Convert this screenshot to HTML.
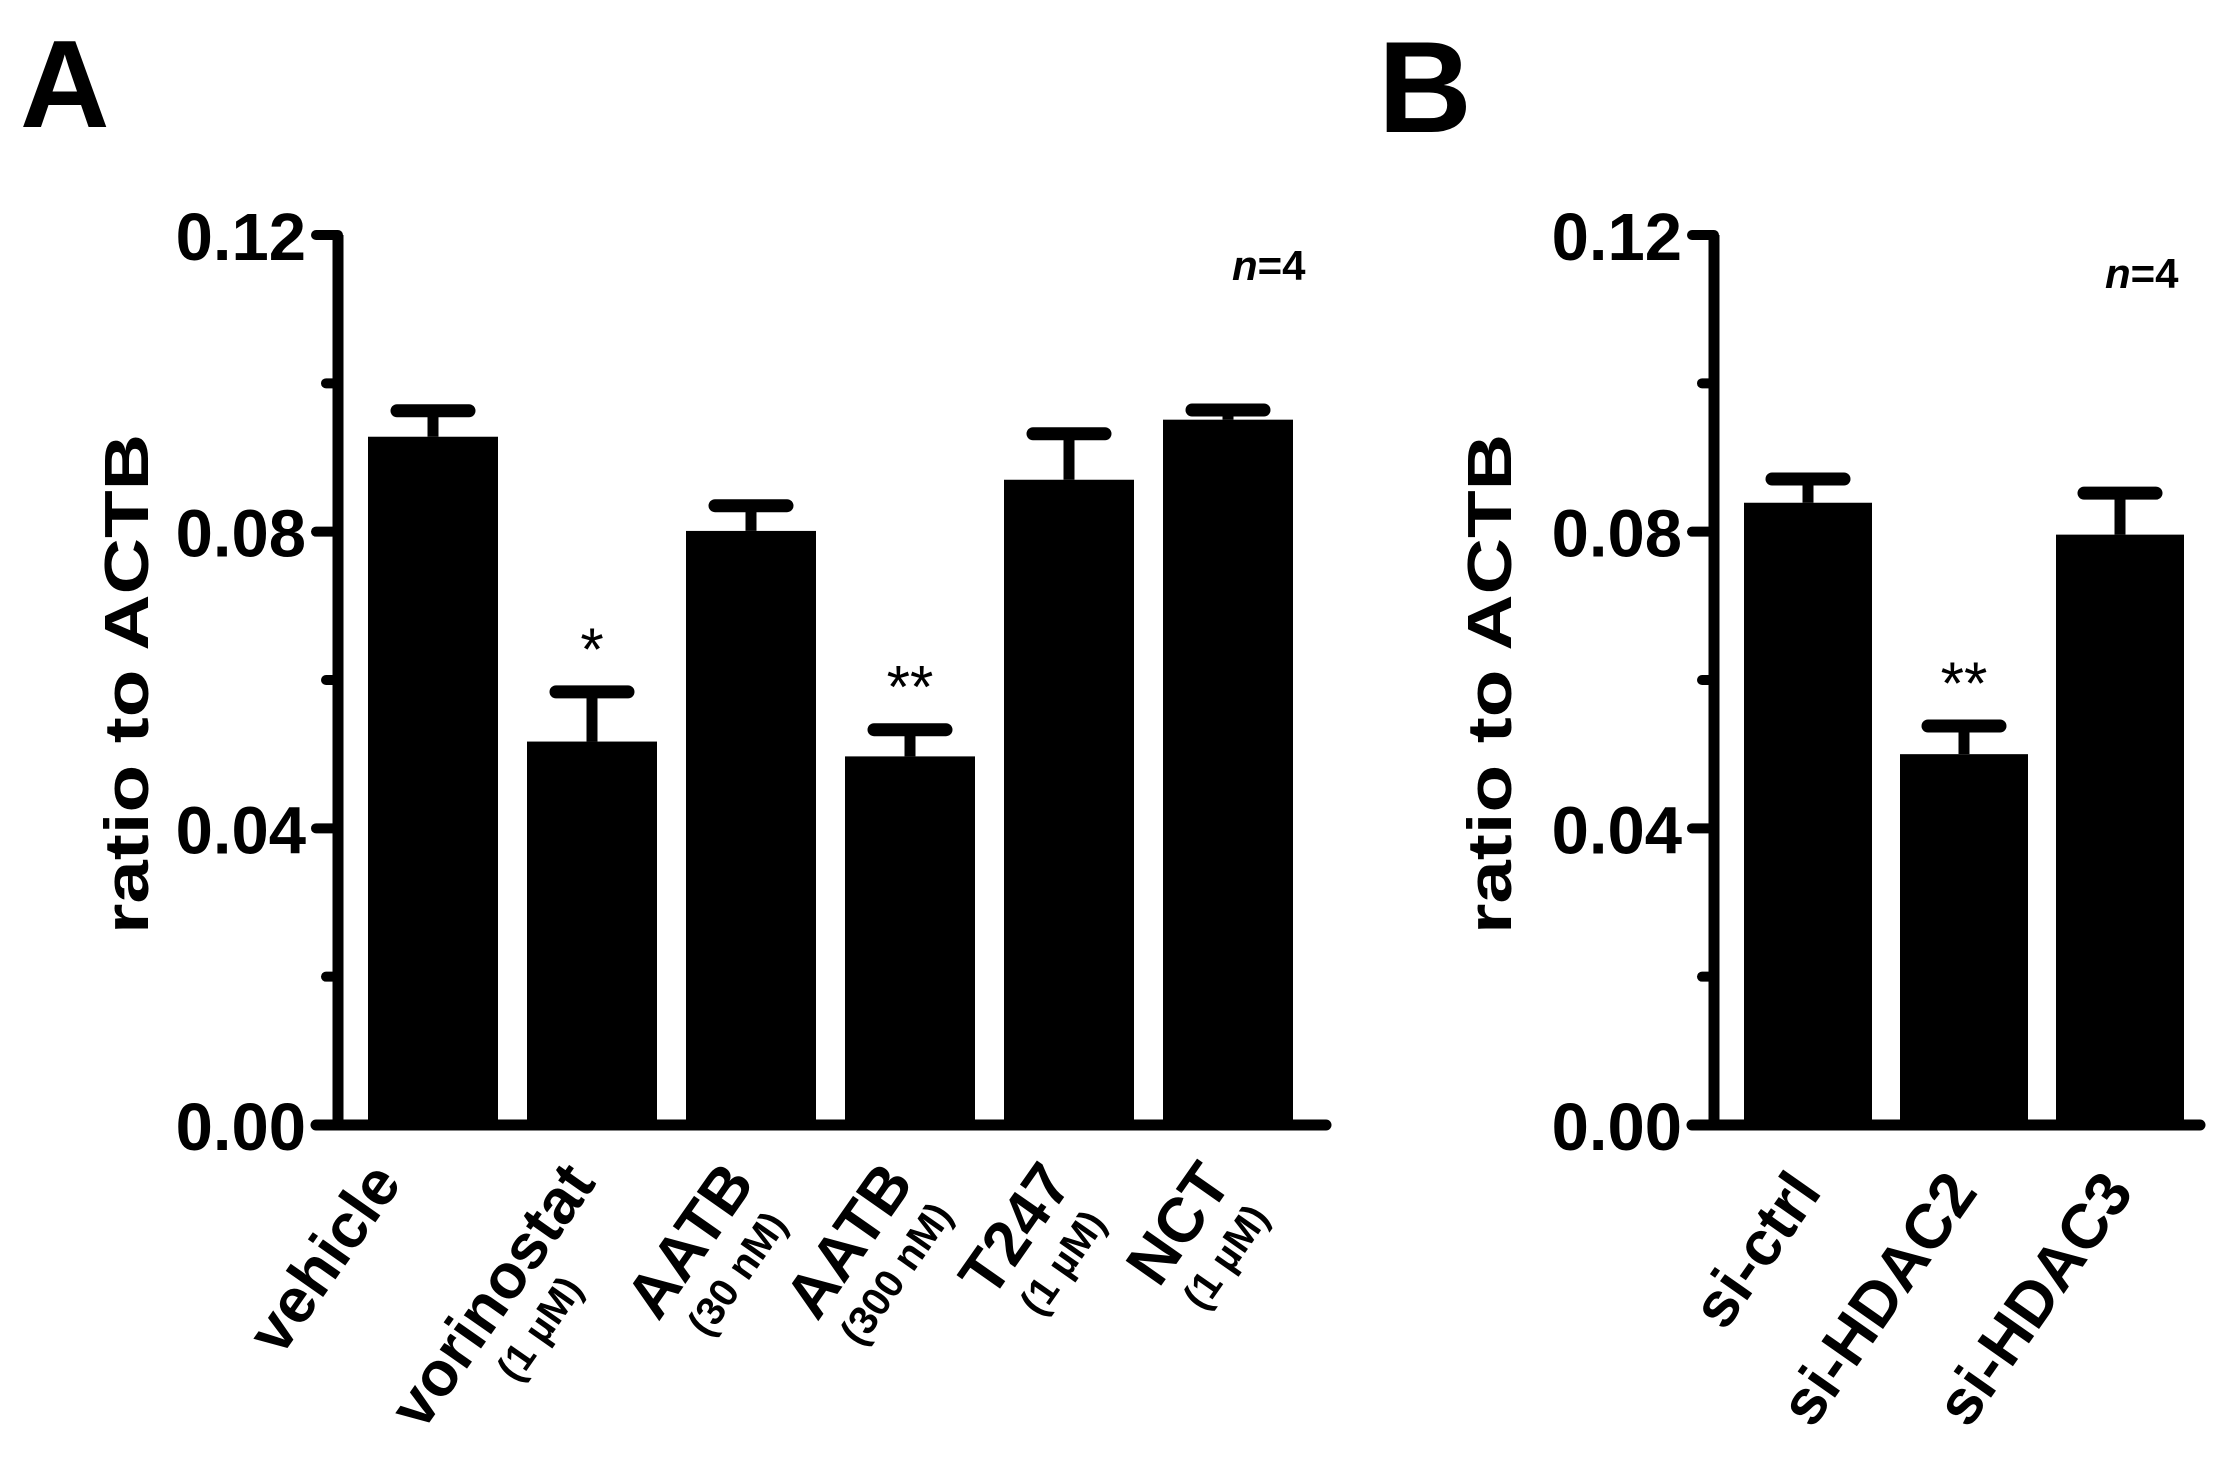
<!DOCTYPE html>
<html><head><meta charset="utf-8"><style>
html,body{margin:0;padding:0;background:#fff;}
svg text{font-family:"Liberation Sans",Arial,sans-serif;font-weight:bold;fill:#000;}
</style></head><body>
<svg id="chart" width="2234" height="1474" viewBox="0 0 2234 1474" xmlns="http://www.w3.org/2000/svg">
<text x="20" y="127" font-size="124">A</text>
<text x="1378" y="132" font-size="130">B</text>
<g id="pa"></g>
<g id="pb"></g>
</svg>
<script>
const catsA = ["vehicle","vorinostat","AATB","AATB","T247","NCT"];
const subsA = ["","(1 \u00b5M)","(30 nM)","(300 nM)","(1 \u00b5M)","(1 \u00b5M)"];
const meansA = [0.0928,0.0517,0.0801,0.0497,0.0870,0.0951];
const errsA = [0.0035,0.0067,0.0034,0.0036,0.0062,0.0013];
const starsA = ["","*","","**","",""];
const catsB = ["si-ctrl","si-HDAC2","si-HDAC3"];
const subsB = ["","",""];
const meansB = [0.0839,0.0500,0.0796];
const errsB = [0.0032,0.0038,0.0056];
const starsB = ["","**",""];
const tickVals = [0,0.04,0.08,0.12];
const tickLabels = ["0.00","0.04","0.08","0.12"];
const minorVals = [0.02,0.06,0.10];

const NS="http://www.w3.org/2000/svg";
function mk(parent,tag,attrs){const e=document.createElementNS(NS,tag);for(const k in attrs)e.setAttribute(k,attrs[k]);parent.appendChild(e);return e;}
const Y0=1125, YT=235, YMAX=0.12;
function yS(v){return Y0-(v/YMAX)*(Y0-YT);}

function panel(g,o){
  const xS=i=>o.c0+i*o.step;
  let e=mk(g,'line',{x1:o.ax,y1:YT,x2:o.ax,y2:Y0,stroke:'#000','stroke-width':11});
  
  e=mk(g,'line',{x1:o.ax-22,y1:Y0,x2:o.xend,y2:Y0,stroke:'#000','stroke-width':11,'stroke-linecap':'round'});
  
  tickVals.forEach((v,i)=>{
    const t=mk(g,'line',{x1:o.ax-22,y1:yS(v),x2:o.ax,y2:yS(v),stroke:'#000','stroke-width':10,'stroke-linecap':'round'});
    
    const l=mk(g,'text',{x:o.ax-32,y:yS(v)+25,'font-size':67,'text-anchor':'end'});
    l.textContent=tickLabels[i];
    
  });
  minorVals.forEach(v=>{
    const t=mk(g,'line',{x1:o.ax-12,y1:yS(v),x2:o.ax,y2:yS(v),stroke:'#000','stroke-width':10,'stroke-linecap':'round'});
    
  });
  const yt=mk(g,'text',{x:0,y:0,'font-size':62,'text-anchor':'middle',textLength:500,lengthAdjust:'spacingAndGlyphs',transform:`translate(${o.titleX},684) rotate(-90)`});
  yt.textContent='ratio to ACTB';
  
  o.means.forEach((m,i)=>{
    const cx=xS(i), top=yS(m), cap=yS(m+o.errs[i]);
    const st=mk(g,'line',{x1:cx,y1:top,x2:cx,y2:cap,stroke:'#000','stroke-width':11});
    
    const cp=mk(g,'line',{x1:cx-36,y1:cap,x2:cx+36,y2:cap,stroke:'#000','stroke-width':13,'stroke-linecap':'round'});
    
    const b=mk(g,'rect',{x:cx-o.bw/2,y:top,width:o.bw,height:Y0-top,fill:'#000'});
    
    if(o.stars[i]){
      const s=mk(g,'text',{x:cx,y:cap-o.starGap,'font-size':60,'text-anchor':'middle','font-weight':'normal',style:'font-weight:normal'});
      s.textContent=o.stars[i];
      
    }
    const hasSub=!!o.subs[i];
    const ex=cx+(hasSub?o.dxSub:o.dxNo), ey=o.ly;
    const lg=mk(g,'g',{transform:`translate(${ex},${ey}) rotate(-55)`});
    
    const mt=mk(lg,'text',{x:0,y:0,'font-size':63,'text-anchor':'end'});
    mt.textContent=o.cats[i];
    if(hasSub){
      const w=mt.getComputedTextLength();
      const sb=mk(lg,'text',{x:-w/2,y:50,'font-size':40,'text-anchor':'middle'});
      sb.textContent=o.subs[i];
      
    }
  });
  const n=mk(g,'text',{x:o.nx,y:o.ny,'font-size':42});
  
  const ni=mk(n,'tspan',{'font-style':'italic'});ni.textContent='n';
  const nr=mk(n,'tspan',{});nr.textContent='=4';
}
panel(document.getElementById('pa'),{ax:338,xend:1326,c0:433,step:159,bw:130,means:meansA,errs:errsA,cats:catsA,subs:subsA,stars:starsA,titleX:148,dxSub:5,dxNo:-30,ly:1183,nx:1232,ny:280,starGap:22});
panel(document.getElementById('pb'),{ax:1714,xend:2200,c0:1808,step:156,bw:128,means:meansB,errs:errsB,cats:catsB,subs:subsB,stars:starsB,titleX:1511,dxSub:15,dxNo:15,ly:1192,nx:2105,ny:288,starGap:22});
</script>
</body></html>
